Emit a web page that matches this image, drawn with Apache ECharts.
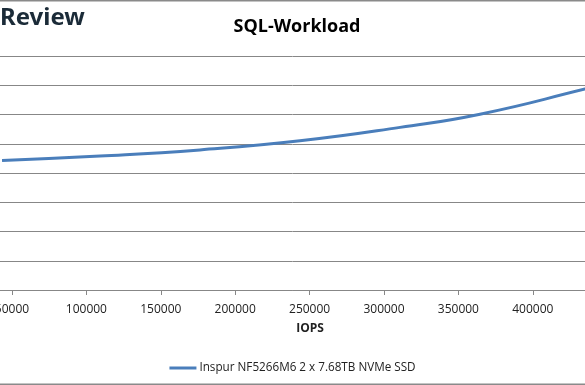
<!DOCTYPE html>
<html><head><meta charset="utf-8">
<script src="https://cdn.jsdelivr.net/npm/echarts@6/dist/echarts.min.js"></script>
<style>html,body{margin:0;padding:0;background:#fff}#c{width:585px;height:385px}</style>
</head><body><div id="c"></div>
<script>
const seriesName = 'Inspur NF5266M6 2 x 7.68TB NVMe SSD';
const iops = [43300, 109100, 176300, 243500, 310800, 364500, 435100, 458600];
const latency = [0.443, 0.458, 0.479, 0.510, 0.556, 0.601, 0.687, 0.718];
const xTickValues = [50000, 100000, 150000, 200000, 250000, 300000, 350000, 400000];
const xRange = [41935, 435080];
const yTicks = [0, 0.8, 0.1];

const chart = echarts.init(document.getElementById('c'), null, {renderer: 'canvas'});
chart.setOption({
  animation: false,
  backgroundColor: '#fff',
  title: {
    text: 'SQL-Workload', left: 292, top: 13, textAlign: 'center',
    textStyle: {fontFamily: 'Open Sans', fontWeight: 'bold', fontSize: 18, color: '#000'}
  },
  legend: {
    data: [seriesName], left: 'center', top: 357, icon: 'rect', itemWidth: 27, itemHeight: 3, itemGap: 4,
    textStyle: {fontFamily: 'Open Sans', fontSize: 11.7, color: '#222', padding: [0, 0, 0, -2]}
  },
  grid: {left: 0, right: 0, top: 56, bottom: 95, containLabel: false, outerBoundsMode: 'none'},
  xAxis: {
    type: 'value', min: xRange[0], max: xRange[1],
    axisLine: {show: true, lineStyle: {color: '#878787', width: 1}},
    axisTick: {show: true, length: 5, lineStyle: {color: '#878787'}, customValues: xTickValues},
    splitLine: {show: false},
    axisLabel: {fontFamily: 'Open Sans', fontSize: 12, color: '#222', margin: 14, customValues: xTickValues,
      formatter: v => String(v)}
  },
  yAxis: {
    type: 'value', min: yTicks[0], max: yTicks[1], interval: yTicks[2],
    axisLine: {show: false}, axisTick: {show: false}, axisLabel: {show: false},
    splitLine: {show: true, lineStyle: {color: '#878787', width: 1}}
  },
  graphic: [
    {type: 'text', x: 0, y: 18, style: {text: 'Review', fontFamily: 'Noto Sans', fontWeight: 'bold', fontSize: 24, fill: '#1b2b38', textVerticalAlign: 'middle'}},
    {type: 'text', x: 310, y: 329, style: {text: 'IOPS', fontFamily: 'Open Sans', fontWeight: 'bold', fontSize: 12, fill: '#222', textAlign: 'center', textVerticalAlign: 'middle'}},
    {type: 'rect', shape: {x: 0, y: 0, width: 585, height: 1.5}, style: {fill: '#8a8a8a'}},
    {type: 'rect', shape: {x: 0, y: 383.5, width: 585, height: 1.5}, style: {fill: '#8a8a8a'}}
  ],
  series: [{
    name: seriesName, type: 'line', smooth: 0.5, symbol: 'none',
    data: iops.map((v, i) => [v, latency[i]]),
    lineStyle: {color: '#4a7ebb', width: 3},
    itemStyle: {color: '#4a7ebb'}
  }]
});
</script></body></html>
